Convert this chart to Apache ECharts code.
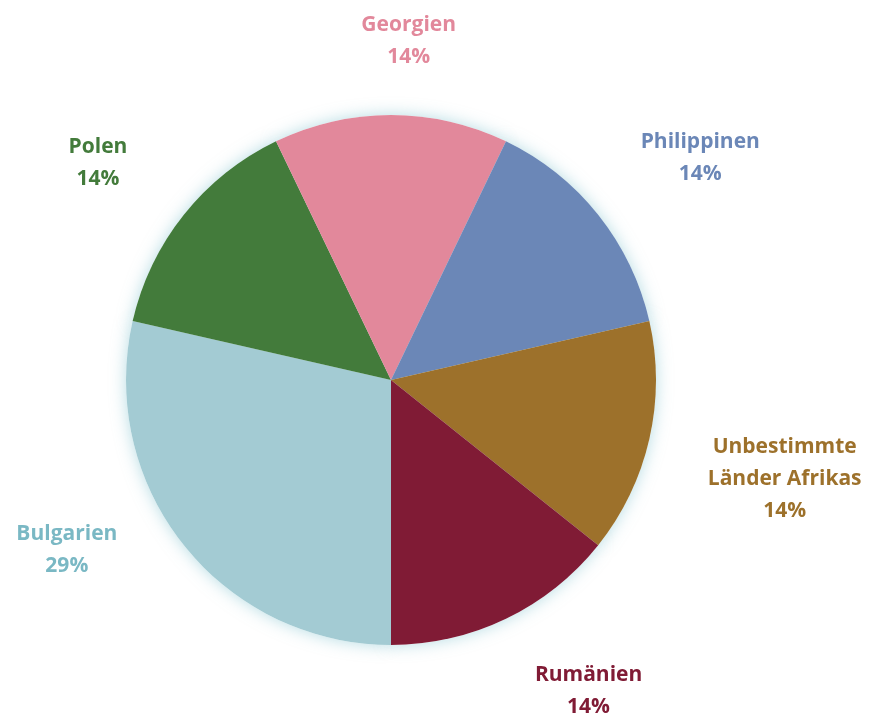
<!DOCTYPE html>
<html>
<head>
<meta charset="utf-8">
<script src="https://cdn.jsdelivr.net/npm/echarts@6/dist/echarts.min.js"></script>
<style>html,body{margin:0;padding:0;background:#fff}#c{width:873px;height:713px}</style>
</head>
<body>
<div id="c"></div>
<script>
const categories = ['Bulgarien', 'Polen', 'Georgien', 'Philippinen', 'Unbestimmte\nLänder Afrikas', 'Rumänien'];
const values = [2, 1, 1, 1, 1, 1];
const sliceColors = ['#a3cbd3', '#437b3b', '#e2889b', '#6b87b7', '#9d712b', '#801b35'];
const labelColors = ['#7ab8c4', '#437b3b', '#e2889b', '#6b87b7', '#9d712b', '#801b35'];
// label nudges (style only): [dx, dy]
const labelNudge = [[-5, -34], [5, -13], [78, -12], [-19, -18], [-15, 26], [-11, 16]];

const pieBase = {
  type: 'pie',
  center: [391, 380],
  radius: 265,
  startAngle: 270,
  clockwise: true,
  avoidLabelOverlap: false
};

const chart = echarts.init(document.getElementById('c'));
chart.setOption({
  animation: false,
  series: [
    Object.assign({}, pieBase, {
      silent: true,
      z: 1,
      data: categories.map((n, i) => ({ name: n, value: values[i] })),
      itemStyle: { color: '#ffffff', shadowBlur: 16, shadowColor: 'rgba(110,185,200,0.5)' },
      label: { show: false },
      labelLine: { show: false }
    }),
    Object.assign({}, pieBase, {
      z: 2,
      data: categories.map((n, i) => ({
        name: n, value: values[i],
        itemStyle: { color: sliceColors[i] },
        label: { color: labelColors[i] }
      })),
      label: {
        show: true,
        position: 'outside',
        formatter: p => p.name + '\n' + Math.round(p.percent) + '%',
        fontFamily: 'Open Sans',
        fontWeight: 'bold',
        fontSize: 21,
        lineHeight: 32
      },
      labelLine: { show: false, length: 62, length2: 8 },
      labelLayout: function (p) {
        const r = p.labelRect;
        const n = labelNudge[p.dataIndex];
        return { x: r.x + r.width / 2 + n[0], y: r.y + r.height / 2 + n[1], align: 'center', verticalAlign: 'middle' };
      }
    })
  ]
});
</script>
</body>
</html>
